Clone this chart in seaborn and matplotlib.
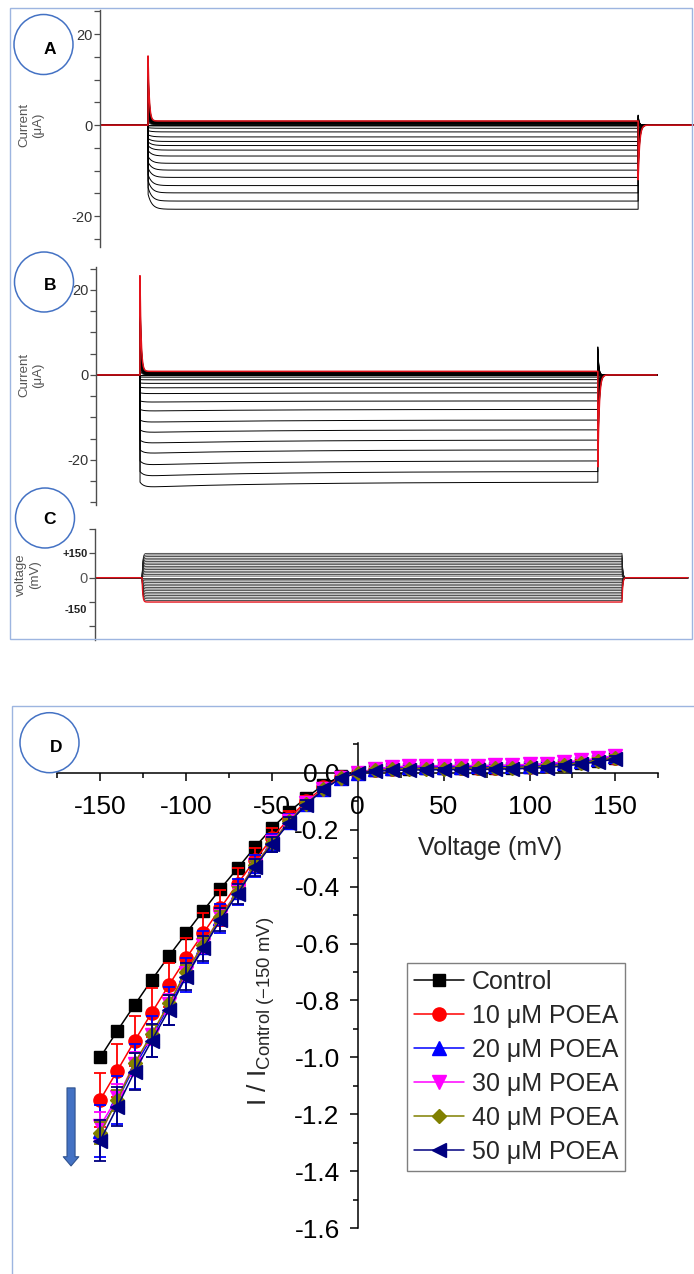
import numpy as np
import pandas as pd
import matplotlib
matplotlib.use("Agg")
import matplotlib.pyplot as plt
import seaborn as sns
from matplotlib.patches import Rectangle, Ellipse
from matplotlib.ticker import MultipleLocator, FormatStrFormatter
from matplotlib.transforms import ScaledTranslation

sns.set_theme(style="ticks")
plt.rcParams["font.family"] = ["Liberation Sans", "DejaVu Sans"]
plt.rcParams["axes.unicode_minus"] = False
plt.rcParams["mathtext.fontset"] = "custom"
plt.rcParams["mathtext.rm"] = "Liberation Sans"
plt.rcParams["mathtext.it"] = "Liberation Sans:italic"
plt.rcParams["mathtext.bf"] = "Liberation Sans:bold"

# ---------------------------------------------------------------- data
# Voltage protocol: one sweep per step (mV)
step_mV = [-150, -140, -130, -120, -110, -100, -90, -80, -70, -60, -50, -40, -30, -20, -10,
           0, 10, 20, 30, 40, 50, 60, 70, 80, 90, 100, 110, 120, 130, 140, 150]

# Steady-state current of each sweep (uA), control (A) and with POEA (B)
steady_A = [-18.5, -16.7, -14.9, -13.3, -11.5, -9.9, -8.4, -6.8, -5.5, -4.5, -3.6, -2.6, -1.5, -0.7, -0.2,
            0.0, 0.15, 0.25, 0.3, 0.35, 0.4, 0.45, 0.5, 0.55, 0.6, 0.65, 0.7, 0.75, 0.8, 0.85, 0.9]
steady_B = [-25.2, -22.7, -20.2, -17.6, -15.3, -12.9, -10.6, -8.1, -6.1, -4.2, -2.9, -1.9, -1.1, -0.5, -0.15,
            0.0, 0.1, 0.2, 0.25, 0.3, 0.35, 0.4, 0.45, 0.5, 0.55, 0.6, 0.65, 0.7, 0.75, 0.8, 0.85]

# Capacitive transients at +/-150 mV (uA): onset peak, offset dip, offset rebound
transient_A = {"on_peak": 14.3, "off_pos": 12.0, "off_neg": 2.2, "sag": 0.18, "relax": 0.0}
transient_B = {"on_peak": 22.5, "off_pos": 21.6, "off_neg": 6.6, "sag": 0.0, "relax": 0.05}

# Normalised I-V relation, I / I_Control(-150 mV), mean and SEM
iv_control = [-1.000, -0.906, -0.816, -0.728, -0.644, -0.564, -0.485, -0.408, -0.336, -0.262, -0.195, -0.137,
              -0.088, -0.043, -0.013, 0.000, 0.008, 0.012, 0.014, 0.015, 0.015, 0.015, 0.015, 0.016, 0.017,
              0.019, 0.022, 0.027, 0.034, 0.042, 0.051]
iv_10 = [-1.149, -1.046, -0.942, -0.843, -0.746, -0.652, -0.564, -0.476, -0.390, -0.308, -0.230, -0.160,
         -0.100, -0.052, -0.017, 0.000, 0.009, 0.013, 0.015, 0.016, 0.016, 0.016, 0.017, 0.018, 0.019,
         0.021, 0.024, 0.029, 0.036, 0.044, 0.053]
iv_20 = [-1.258, -1.150, -1.032, -0.928, -0.820, -0.710, -0.612, -0.512, -0.420, -0.328, -0.248, -0.172,
         -0.110, -0.058, -0.020, 0.000, 0.012, 0.018, 0.020, 0.021, 0.021, 0.021, 0.022, 0.022, 0.023,
         0.025, 0.028, 0.033, 0.040, 0.048, 0.058]
iv_30 = [-1.240, -1.140, -1.022, -0.920, -0.812, -0.702, -0.604, -0.506, -0.416, -0.325, -0.245, -0.170,
         -0.108, -0.056, -0.019, 0.000, 0.013, 0.020, 0.023, 0.024, 0.025, 0.025, 0.025, 0.026, 0.027,
         0.029, 0.032, 0.037, 0.043, 0.050, 0.060]
iv_40 = [-1.265, -1.150, -1.020, -0.918, -0.810, -0.700, -0.605, -0.507, -0.418, -0.326, -0.246, -0.171,
         -0.109, -0.057, -0.019, 0.000, 0.008, 0.012, 0.013, 0.014, 0.014, 0.015, 0.015, 0.016, 0.017,
         0.019, 0.022, 0.027, 0.034, 0.042, 0.052]
iv_50 = [-1.292, -1.173, -1.050, -0.941, -0.833, -0.716, -0.617, -0.517, -0.425, -0.332, -0.252, -0.176,
         -0.112, -0.059, -0.020, 0.000, 0.004, 0.008, 0.009, 0.010, 0.010, 0.011, 0.011, 0.012, 0.013,
         0.015, 0.018, 0.023, 0.030, 0.038, 0.048]

sem_control = [0.000, 0.008, 0.008, 0.007, 0.007, 0.006, 0.006, 0.005, 0.005, 0.004, 0.004, 0.003, 0.003,
               0.002, 0.002, 0.000, 0.002, 0.002, 0.002, 0.002, 0.002, 0.002, 0.002, 0.003, 0.003, 0.003,
               0.003, 0.003, 0.004, 0.004, 0.004]
sem_10 = [0.095, 0.093, 0.088, 0.086, 0.078, 0.071, 0.071, 0.064, 0.055, 0.045, 0.036, 0.027, 0.019, 0.011,
          0.005, 0.000, 0.004, 0.005, 0.005, 0.005, 0.005, 0.005, 0.005, 0.006, 0.006, 0.006, 0.007, 0.007,
          0.008, 0.009, 0.010]
sem_20 = [0.090, 0.085, 0.080, 0.072, 0.066, 0.060, 0.055, 0.050, 0.045, 0.038, 0.032, 0.026, 0.018, 0.011,
          0.006, 0.000, 0.006, 0.007, 0.007, 0.007, 0.007, 0.007, 0.007, 0.008, 0.008, 0.008, 0.009, 0.010,
          0.011, 0.012, 0.013]
sem_30 = [0.050, 0.046, 0.042, 0.038, 0.035, 0.031, 0.028, 0.025, 0.022, 0.019, 0.016, 0.013, 0.010, 0.007,
          0.004, 0.000, 0.005, 0.006, 0.006, 0.006, 0.006, 0.006, 0.006, 0.007, 0.007, 0.007, 0.008, 0.008,
          0.009, 0.010, 0.011]
sem_40 = [0.040, 0.037, 0.034, 0.031, 0.028, 0.025, 0.023, 0.020, 0.018, 0.015, 0.013, 0.010, 0.008, 0.005,
          0.003, 0.000, 0.004, 0.004, 0.004, 0.004, 0.004, 0.004, 0.004, 0.005, 0.005, 0.005, 0.006, 0.006,
          0.007, 0.008, 0.009]
sem_50 = [0.072, 0.068, 0.064, 0.058, 0.053, 0.048, 0.044, 0.040, 0.035, 0.030, 0.025, 0.020, 0.015, 0.010,
          0.005, 0.000, 0.005, 0.005, 0.005, 0.005, 0.005, 0.005, 0.005, 0.006, 0.006, 0.006, 0.007, 0.007,
          0.008, 0.009, 0.010]

conditions = ["Control", "10 \u03bcM POEA", "20 \u03bcM POEA", "30 \u03bcM POEA", "40 \u03bcM POEA", "50 \u03bcM POEA"]
cond_colors = ["#000000", "#FF0000", "#0000FF", "#FF00FF", "#808000", "#000080"]
cond_markers = ["s", "o", "^", "v", "D", "<"]
cond_msize = [8.5, 9.5, 9.5, 9.5, 7.5, 9.5]

# ---------------------------------------------------------------- figure
W, H = 694, 1274
fig = plt.figure(figsize=(W / 100, H / 100), dpi=100)


def px_axes(x0, y0, x1, y1):
    return fig.add_axes([x0 / W, 1 - y1 / H, (x1 - x0) / W, (y1 - y0) / H])


PULSE = 1000.0  # ms


def current_sweep(v, ss, t_start, t_stop, p):
    t_pre = np.linspace(t_start, 0, 40)
    t_on = np.concatenate([np.linspace(0, 60, 300), np.linspace(60, PULSE, 200)[1:]])
    t_off = np.concatenate([np.linspace(0, 40, 200), np.linspace(40, t_stop - PULSE, 60)[1:]])
    frac = abs(v) / 150.0
    if v < 0:
        i_on = ss * (1 - p["sag"] * np.exp(-t_on / 8.0)
                     + p["relax"] * (np.exp(-t_on / 300.0) - np.exp(-t_on / 8.0)))
        i_off = p["off_neg"] * frac * np.exp(-t_off / 2.0)
    elif v > 0:
        i_on = ss + p["on_peak"] * frac * np.exp(-t_on / 2.5)
        i_off = -p["off_pos"] * frac * np.exp(-t_off / 3.0)
    else:
        i_on = np.zeros_like(t_on)
        i_off = np.zeros_like(t_off)
    t = np.concatenate([t_pre, t_on, PULSE + t_off])
    i = np.concatenate([np.zeros_like(t_pre), i_on, i_off])
    return t, i


def voltage_sweep(v, t_start, t_stop):
    t_pre = np.linspace(t_start, 0, 20)
    t_on = np.concatenate([np.linspace(0, 20, 60), np.linspace(20, PULSE, 40)[1:]])
    t_off = np.concatenate([np.linspace(0, 20, 60), np.linspace(20, t_stop - PULSE, 20)[1:]])
    t = np.concatenate([t_pre, t_on, PULSE + t_off])
    u = np.concatenate([np.zeros_like(t_pre), v * (1 - np.exp(-t_on / 1.5)), v * np.exp(-t_off / 1.5)])
    return t, u


def sweeps_frame(levels, t_start, t_stop, p):
    parts = []
    for k, (v, ss) in enumerate(zip(step_mV, levels)):
        t, i = current_sweep(v, ss, t_start, t_stop, p)
        parts.append(pd.DataFrame({"t": t, "I": i, "sweep": k, "mV": v}))
    return pd.concat(parts, ignore_index=True)


def style_trace_axes(ax):
    ax.set_facecolor("none")
    ax.xaxis.set_visible(False)
    for s in ("top", "right", "bottom"):
        ax.spines[s].set_visible(False)
    ax.spines["left"].set_color("#4d4d4d")
    ax.spines["left"].set_linewidth(1.0)
    ax.tick_params(axis="y", direction="out", length=4, width=0.9, color="#4d4d4d",
                   labelsize=10.5, labelcolor="#333333", pad=1.5)
    ax.set_xlabel("")
    ax.set_ylabel("")


def draw_currents(ax, levels, p, t_start, t_stop, red_mV=150):
    df = sweeps_frame(levels, t_start, t_stop, p)
    sns.lineplot(data=df[df["mV"] != red_mV], x="t", y="I", units="sweep", estimator=None,
                 sort=False, color="black", lw=0.7, ax=ax)
    sns.lineplot(data=df[df["mV"] == red_mV], x="t", y="I", units="sweep", estimator=None,
                 sort=False, color="#E3121B", lw=1.1, ax=ax)


# ---- A: control currents
axA = px_axes(100, 10, 694, 247)
draw_currents(axA, steady_A, transient_A, -98, 1130)
axA.set_xlim(-98, 1114)
axA.set_ylim(-26.8, 25.3)
style_trace_axes(axA)
axA.set_yticks(np.arange(-25, 26, 5))
axA.set_yticklabels(["" if v not in (-20, 0, 20) else str(v) for v in range(-25, 26, 5)])

# ---- B: currents with POEA
axB = px_axes(96, 267, 694, 505)
draw_currents(axB, steady_B, transient_B, -96, 1129)
axB.set_xlim(-96, 1210)
axB.set_ylim(-30.6, 25.4)
style_trace_axes(axB)
axB.set_yticks(np.arange(-30, 26, 5))
axB.set_yticklabels(["" if v not in (-20, 0, 20) else str(v) for v in range(-30, 26, 5)])

for y_px in (125, 375):
    fig.text(31 / W, 1 - y_px / H, "Current\n(\u03bcA)", rotation=90, ha="center", va="center",
             fontsize=9.5, color="#555555", linespacing=1.15)

# ---- C: voltage protocol
axC = px_axes(95, 529, 694, 640)
vparts = []
for k, v in enumerate(step_mV):
    t, u = voltage_sweep(v, -98, 1137)
    vparts.append(pd.DataFrame({"t": t, "V": u, "sweep": k, "mV": v}))
vdf = pd.concat(vparts, ignore_index=True)
sns.lineplot(data=vdf[vdf["mV"] != -150], x="t", y="V", units="sweep", estimator=None, sort=False,
             color="#222222", lw=0.55, ax=axC)
sns.lineplot(data=vdf[vdf["mV"] == -150], x="t", y="V", units="sweep", estimator=None, sort=False,
             color="#E3121B", lw=1.0, ax=axC)
axC.set_xlim(-98, 1150)
axC.set_ylim(-384, 282)
style_trace_axes(axC)
axC.set_yticks([-300, -150, 0, 150, 300])
axC.set_yticklabels(["", "-150", "0", "+150", ""])
for lab in axC.get_yticklabels():
    if lab.get_text() in ("+150", "-150"):
        lab.set_fontsize(8)
        lab.set_fontweight("bold")
        lab.set_color("#222222")
    elif lab.get_text() == "0":
        lab.set_fontsize(10.5)
        lab.set_color("#555555")
    if lab.get_text() == "-150":
        lab.set_transform(lab.get_transform() + ScaledTranslation(0, -7 / 100, fig.dpi_scale_trans))
fig.text(28 / W, 1 - 575 / H, "voltage\n(mV)", rotation=90, ha="center", va="center",
         fontsize=9.5, color="#555555", linespacing=1.15)

# ---- D: normalised I-V
axD = px_axes(57.3, 743.3, 658.3, 1228.3)
axD.set_facecolor("none")
iv_means = [iv_control, iv_10, iv_20, iv_30, iv_40, iv_50]
iv_sems = [sem_control, sem_10, sem_20, sem_30, sem_40, sem_50]
for k, name in enumerate(conditions):
    col = cond_colors[k]
    axD.errorbar(step_mV, iv_means[k], yerr=iv_sems[k], fmt="none", ecolor=col, elinewidth=1.3,
                 capsize=4, capthick=1.3, zorder=3 + 2 * k, label="_nolegend_")
    sns.lineplot(x=step_mV, y=iv_means[k], color=col, marker=cond_markers[k],
                 markersize=cond_msize[k], markeredgecolor=col, markeredgewidth=1.0, lw=1.1,
                 label=name, ax=axD, zorder=4 + 2 * k)

axD.set_xlim(-175, 175)
axD.set_ylim(-1.6, 0.103)
for s in ("top", "right"):
    axD.spines[s].set_visible(False)
axD.spines["left"].set_position(("data", 0))
axD.spines["bottom"].set_position(("data", 0))
for s in ("left", "bottom"):
    axD.spines[s].set_color("black")
    axD.spines[s].set_linewidth(1.1)
axD.xaxis.set_major_locator(MultipleLocator(50))
axD.xaxis.set_minor_locator(MultipleLocator(25))
axD.yaxis.set_major_locator(MultipleLocator(0.2))
axD.yaxis.set_minor_locator(MultipleLocator(0.1))
axD.yaxis.set_major_formatter(FormatStrFormatter("%.1f"))
axD.tick_params(axis="both", which="major", direction="out", length=6, width=1.1, color="black",
                labelsize=19, labelcolor="black")
axD.tick_params(axis="both", which="minor", direction="out", length=3.5, width=1.1, color="black")
axD.tick_params(axis="x", which="major", pad=10)
axD.tick_params(axis="y", which="major", pad=7)
axD.set_xlabel("")
axD.set_ylabel("")
axD.text(0.72, 0.784, "Voltage (mV)", transform=axD.transAxes, ha="center", va="center", fontsize=18)
axD.text(0.34, 0.448, r"$\mathrm{I\ /\ I}_{\mathrm{Control\ (-150\ mV)}}$", transform=axD.transAxes,
         rotation=90, ha="center", va="center", fontsize=19)

handles, labels = axD.get_legend_handles_labels()
leg = axD.legend(handles, labels, loc="upper left", bbox_to_anchor=(407 / W, 1 - 963 / H),
                 bbox_transform=fig.transFigure, frameon=True, fancybox=False, framealpha=1,
                 edgecolor="#7f7f7f", fontsize=18, handlelength=2.0, handletextpad=0.3,
                 labelspacing=0.4, borderpad=0.28, borderaxespad=0)
leg.get_frame().set_linewidth(1.0)

# decreasing-current arrow
axD.annotate("", xy=(-167, -1.381), xytext=(-167, -1.107),
             arrowprops=dict(arrowstyle="simple,head_length=0.33,head_width=0.56,tail_width=0.29",
                             fc="#4472C4", ec="#2F528F", lw=0.8, shrinkA=0, shrinkB=0,
                             mutation_scale=20))

# ---- panel frames and labels
frame_col = "#9DB5E0"
fig.add_artist(Rectangle((10 / W, 1 - 639 / H), (692 - 10) / W, (639 - 8) / H,
                         transform=fig.transFigure, fill=False, ec=frame_col, lw=1.0))
fig.add_artist(Rectangle((12 / W, -0.1), 1.2, (1 - 706 / H) + 0.1,
                         transform=fig.transFigure, fill=False, ec=frame_col, lw=1.0))

badges = [("A", 43.5, 44.5, 50, 49), ("B", 44, 282, 50, 286), ("C", 45, 518, 50, 520),
          ("D", 49.5, 742.7, 56, 747)]
for letter, cx, cy, lx, ly in badges:
    fig.add_artist(Ellipse((cx / W, 1 - cy / H), 59 / W, 60 / H, transform=fig.transFigure,
                           fill=False, ec="#4472C4", lw=1.1))
    fig.text(lx / W, 1 - ly / H, letter, ha="center", va="center", fontsize=12.5,
             fontweight="bold", color="black")

fig.savefig("out.png", dpi=100)
